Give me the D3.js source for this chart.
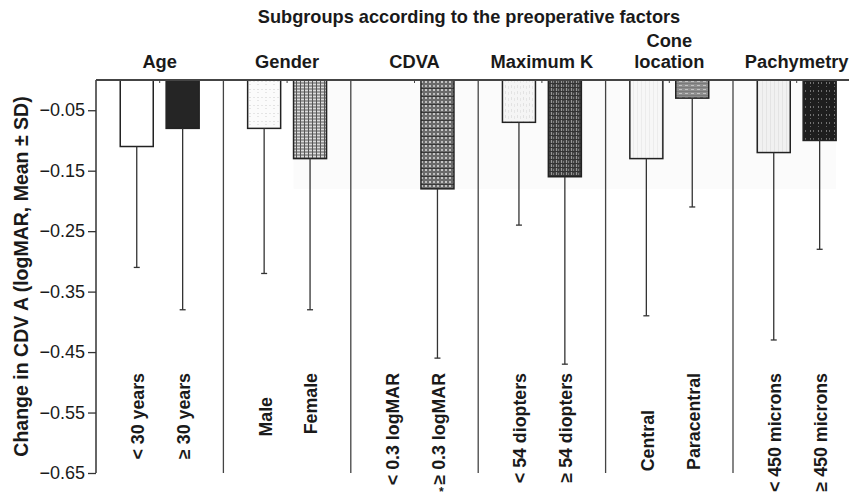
<!DOCTYPE html>
<html><head><meta charset="utf-8">
<script src="https://cdn.jsdelivr.net/npm/d3@7"></script>
<style>
html,body{margin:0;padding:0;background:#fff;}
text{font-family:"Liberation Sans",Arial,Helvetica,sans-serif;}
</style></head>
<body><svg id="chart" width="849" height="499"></svg>
<script>
// ---- data ----
const groups = ["Age", "Gender", "CDVA", "Maximum K", "Cone location", "Pachymetry"];
const groupLabelLines = [["Age"], ["Gender"], ["CDVA"], ["Maximum K"], ["Cone", "location"], ["Pachymetry"]];
const subgroups = [
  ["< 30 years", "≥ 30 years"],
  ["Male", "Female"],
  ["< 0.3 logMAR", "≥ 0.3 logMAR"],
  ["< 54 diopters", "≥ 54 diopters"],
  ["Central", "Paracentral"],
  ["< 450 microns", "≥ 450 microns"]
];
const means = [[-0.11, -0.08], [-0.08, -0.13], [0, -0.18], [-0.07, -0.16], [-0.13, -0.03], [-0.12, -0.10]];
const sds   = [[0.20, 0.30], [0.24, 0.25], [0, 0.28], [0.17, 0.31], [0.26, 0.18], [0.31, 0.18]];
const significant = [[false, false], [false, false], [false, true], [false, false], [false, false], [false, false]];
const yTicks = [-0.05, -0.15, -0.25, -0.35, -0.45, -0.55, -0.65];
const title = "Subgroups according to the preoperative factors";
const yTitle = "Change in CDV A (logMAR, Mean ± SD)";

// ---- layout ----
const W = 849, H = 499;
const plotLeft = 96, plotTop = 80, plotBottom = 473;
const groupStep = 127.4;
const svg = d3.select("#chart");
svg.append("rect").attr("width", W).attr("height", H).attr("fill", "#fff");

const y = d3.scaleLinear().domain([0, -0.65]).range([plotTop, plotBottom]);
const gx = d3.scaleBand().domain(groups).range([plotLeft, plotLeft + groupStep * groups.length]).padding(0);
const sx = d3.scaleBand().domain([0, 1]).range([0, gx.bandwidth()]).paddingInner(0.281).paddingOuter(0.528);

// patterns
const defs = svg.append("defs");
function pat(id, size, bg, marks) {
  const p = defs.append("pattern").attr("id", id).attr("patternUnits", "userSpaceOnUse")
    .attr("width", size[0]).attr("height", size[1]);
  p.append("rect").attr("width", size[0]).attr("height", size[1]).attr("fill", bg);
  marks.forEach(m => p.append("rect").attr("x", m[0]).attr("y", m[1]).attr("width", m[2]).attr("height", m[3]).attr("fill", m[4]));
}
pat("p00", [4, 4], "#ffffff", []);
pat("p01", [4, 4], "#252525", []);
pat("p10", [8, 8], "#fbfbfb", [[1, 1, 2, 1, "#e2e2e2"], [5, 1, 2, 1, "#e6e6e6"], [1, 4, 2, 1, "#e6e6e6"]]);
pat("p11", [4, 3], "#9a9a9a", [[0, 0, 4, 1, "#dcdcdc"], [0, 0, 1, 3, "#555"]]);
pat("p20", [4, 4], "#ffffff", []);
pat("p21", [8, 8], "#6a6a6a", [[1, 1, 2, 2, "#c8c8c8"], [5, 1, 2, 2, "#bdbdbd"], [1, 5, 2, 2, "#bdbdbd"], [5, 5, 2, 2, "#c8c8c8"], [0, 0, 8, 1, "#3a3a3a"]]);
pat("p30", [6, 6], "#f5f5f5", [[1, 1, 1, 3, "#e2e2e2"], [4, 2, 1, 3, "#e6e6e6"]]);
pat("p31", [5, 4], "#444444", [[1, 0, 1, 4, "#999999"], [3, 1, 1, 2, "#7a7a7a"], [0, 3, 5, 1, "#333333"]]);
pat("p40", [4, 4], "#f7f7f7", [[1, 0, 1, 4, "#ececec"]]);
pat("p41", [6, 4], "#8e8e8e", [[1, 1, 3, 1, "#c4c4c4"], [0, 3, 6, 1, "#7a7a7a"]]);
pat("p50", [4, 4], "#f1f1f1", [[2, 0, 1, 4, "#e4e4e4"]]);
pat("p51", [8, 8], "#1e1e1e", [[2, 2, 1, 2, "#777"], [5, 2, 1, 2, "#6a6a6a"], [2, 6, 1, 1, "#666"]]);

// faint scan background (from female bar to last bar, down to deepest mean)
const allMeans = means.flat();
svg.append("rect")
  .attr("x", gx("Gender") + sx(1)).attr("y", y(0))
  .attr("width", gx("Pachymetry") + sx(1) + sx.bandwidth() - (gx("Gender") + sx(1)))
  .attr("height", y(d3.min(allMeans)) - y(0))
  .attr("fill", "#fbfbfb");

// separators between groups
svg.append("g").selectAll("line").data(groups.slice(1)).join("line")
  .attr("x1", d => gx(d)).attr("x2", d => gx(d))
  .attr("y1", y(0)).attr("y2", y(-0.65))
  .attr("stroke", "#444").attr("stroke-width", 1.3);

// y axis
const yAxis = svg.append("g").attr("transform", `translate(${plotLeft},0)`)
  .call(d3.axisLeft(y).tickValues(yTicks).tickSize(8).tickPadding(3).tickFormat(d3.format(".2f")));
yAxis.select(".domain").remove();
yAxis.selectAll(".tick line").attr("stroke", "#333").attr("stroke-width", 1.3);
yAxis.selectAll(".tick text").attr("font-size", 18).attr("fill", "#1a1a1a")
  .attr("font-family", "Liberation Sans, Arial, sans-serif");
svg.append("line").attr("x1", plotLeft).attr("x2", plotLeft).attr("y1", y(0)).attr("y2", y(-0.65))
  .attr("stroke", "#333").attr("stroke-width", 1.5);

// bars
const barData = [];
groups.forEach((g, gi) => [0, 1].forEach(k => barData.push({ g, gi, k, m: means[gi][k], sd: sds[gi][k], label: subgroups[gi][k], sig: significant[gi][k] })));
const bx = d => gx(d.g) + sx(d.k);
const bars = svg.append("g");
bars.selectAll("rect").data(barData.filter(d => d.m !== 0)).join("rect")
  .attr("x", bx).attr("y", y(0))
  .attr("width", sx.bandwidth()).attr("height", d => y(d.m) - y(0))
  .attr("fill", d => `url(#p${d.gi}${d.k})`)
  .attr("stroke", "#222").attr("stroke-width", 1.5);

// error bars (lower whisker only)
const eb = svg.append("g").attr("stroke", "#333").attr("stroke-width", 1.3);
barData.filter(d => d.sd > 0).forEach(d => {
  const cx = bx(d) + sx.bandwidth() / 2;
  eb.append("line").attr("x1", cx).attr("x2", cx).attr("y1", y(d.m)).attr("y2", y(d.m - d.sd));
  eb.append("line").attr("x1", cx - 3).attr("x2", cx + 3).attr("y1", y(d.m - d.sd)).attr("y2", y(d.m - d.sd));
});

// top line and small center ticks
svg.append("line").attr("x1", plotLeft).attr("x2", W).attr("y1", y(0)).attr("y2", y(0))
  .attr("stroke", "#444").attr("stroke-width", 2);
svg.append("g").selectAll("line").data(groups).join("line")
  .attr("x1", d => gx(d) + gx.bandwidth() / 2).attr("x2", d => gx(d) + gx.bandwidth() / 2)
  .attr("y1", y(0)).attr("y2", y(0) + 3).attr("stroke", "#444").attr("stroke-width", 1);

// subgroup labels (rotated)
const labelTopDefault = 373;
const labelTopOverride = { "Male": 397, "Central": 410 };
svg.append("g").selectAll("text").data(barData).join("text")
  .attr("transform", d => `translate(${bx(d) + sx.bandwidth() / 2 + 1},${labelTopOverride[d.label] || labelTopDefault}) rotate(-90)`)
  .attr("text-anchor", "end").attr("dy", "0.36em")
  .attr("font-size", 17.8).attr("font-weight", "bold").attr("fill", "#1a1a1a")
  .text(d => d.label);
svg.append("g").selectAll("text").data(barData.filter(d => d.sig)).join("text")
  .attr("x", d => bx(d) + sx.bandwidth() / 2 + 4).attr("y", 496)
  .attr("text-anchor", "middle").attr("font-size", 12).attr("font-weight", "bold").attr("fill", "#1a1a1a")
  .text("*");

// group labels
const gl = svg.append("g");
groups.forEach((g, i) => {
  const lines = groupLabelLines[i];
  lines.forEach((t, j) => {
    gl.append("text").attr("x", gx(g) + gx.bandwidth() / 2).attr("y", 68 - (lines.length - 1 - j) * 21)
      .attr("text-anchor", "middle").attr("font-size", 18.3).attr("font-weight", "bold").attr("fill", "#1a1a1a")
      .text(t);
  });
});

// title
svg.append("text").attr("x", 469).attr("y", 23).attr("text-anchor", "middle")
  .attr("font-size", 18.2).attr("font-weight", "bold").attr("fill", "#1a1a1a").text(title);

// y title
svg.append("text").attr("transform", `translate(21,${(y(0) + y(-0.65)) / 2}) rotate(-90)`)
  .attr("text-anchor", "middle").attr("dy", "0.36em")
  .attr("font-size", 19.5).attr("font-weight", "bold").attr("fill", "#1a1a1a").text(yTitle);
</script></body></html>
